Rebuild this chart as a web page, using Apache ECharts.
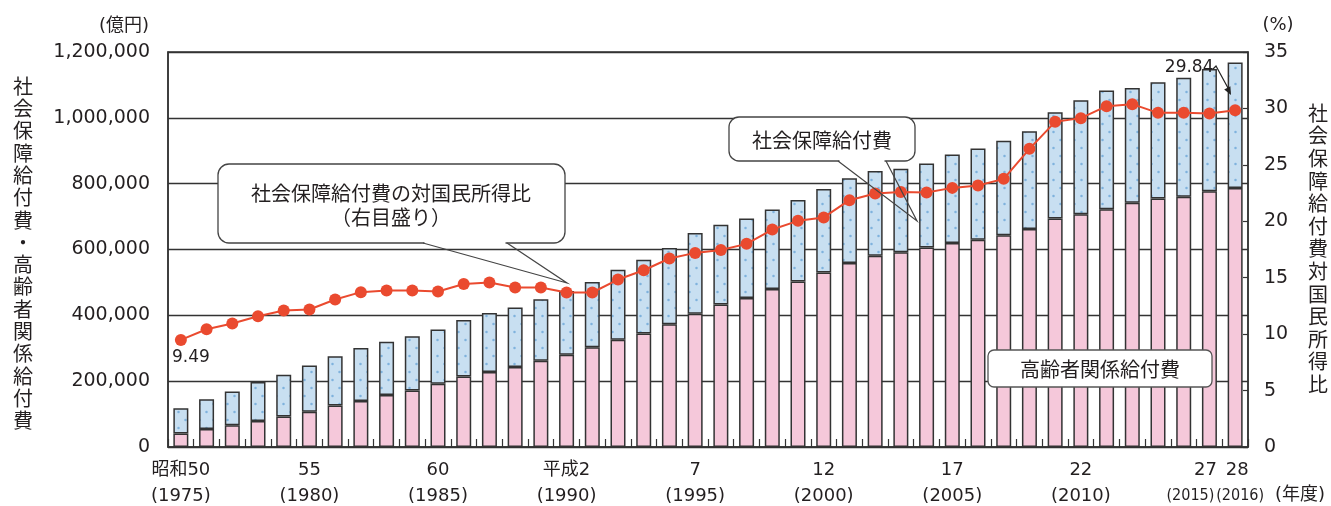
<!DOCTYPE html>
<html><head><meta charset="utf-8">
<script src="https://cdn.jsdelivr.net/npm/echarts@6/dist/echarts.min.js"></script>
<style>html,body{margin:0;padding:0;background:#fff}#c{width:1331px;height:506px}</style>
</head><body><div id="c"></div>
<script>
// ---- data (億円, %) ----
const years = ['1975','1976','1977','1978','1979','1980','1981','1982','1983','1984','1985','1986','1987','1988','1989','1990','1991','1992','1993','1994','1995','1996','1997','1998','1999','2000','2001','2002','2003','2004','2005','2006','2007','2008','2009','2010','2011','2012','2013','2014','2015','2016'];
const totalBenefits = [117693,145165,168868,197763,219832,247736,275638,300973,319733,336396,356798,385918,407337,424071,448822,474153,501346,538280,568974,604727,649842,675475,694187,721411,750417,783985,816267,838402,845260,860958,888529,906727,930441,959436,1016789,1053646,1082741,1090765,1107796,1121734,1148596,1168133];
const elderlyBenefits = [41000,55000,66000,79000,93000,107000,126000,140000,158000,172000,192000,214000,228000,243000,262000,280000,303000,326000,345000,373000,405000,433000,453000,480000,503000,530000,559000,581000,592000,606000,620000,630000,643000,662000,694000,707000,722000,742000,755000,760000,777000,787000];
const ratioToIncome = [9.49,10.43,10.94,11.59,12.09,12.18,13.07,13.72,13.87,13.87,13.78,14.45,14.57,14.13,14.13,13.69,13.69,14.84,15.66,16.7,17.2,17.45,18.0,19.27,20.04,20.34,21.87,22.46,22.6,22.55,22.96,23.17,23.76,26.42,28.81,29.14,30.2,30.38,29.61,29.61,29.56,29.84];
const tickYears = ['1975','1980','1985','1990','1995','2000','2005','2010','2015','2016'];
const tickEra = ['昭和50','55','60','平成2','7','12','17','22','27','28'];
const leftAxis = {min:0, max:1200000, step:200000};
const rightAxis = {min:0, max:35, step:5};

const FONT_NUM = 'DejaVu Sans, "Noto Sans CJK JP", sans-serif';
const FONT_JP = '"Noto Sans CJK JP", sans-serif';
const FONT_NARROW = '"DejaVu Sans Condensed", "Liberation Sans Narrow", sans-serif';
const INK = '#231f20';

// dotted blue pattern
const pc = document.createElement('canvas'); pc.width = 14; pc.height = 16;
const g = pc.getContext('2d');
g.fillStyle = '#c8dff1'; g.fillRect(0,0,14,16);
g.fillStyle = '#7fb2dd';
g.beginPath(); g.arc(3.5,4,1.25,0,Math.PI*2); g.fill();
g.beginPath(); g.arc(10.5,12,1.25,0,Math.PI*2); g.fill();

const others = totalBenefits.map((t,i)=>t - elderlyBenefits[i]);
const lineData = ratioToIncome.map((v,i)=>{
  if (i===0) return {value:v, label:{show:true, position:'inside', offset:[10,18], formatter:'{c}', fontFamily:FONT_NUM, fontSize:17, color:INK}};
  if (i===ratioToIncome.length-1) return {value:v, label:{show:true, position:'inside', offset:[-46,-43], formatter:'{c}', fontFamily:FONT_NUM, fontSize:17, color:INK}};
  return v;
});

const chart = echarts.init(document.getElementById('c'), null, {renderer:'canvas'});
const vChars = s => s.split('').join('\n');

const labelFormatter = (v)=>{
  const k = tickYears.indexOf(v);
  if (k<0) return '';
  if (v==='2015') return '{a1|'+tickEra[k]+'}\n{n1|('+v+')}';
  if (v==='2016') return '{a2|'+tickEra[k]+'}\n{n2|('+v+')}';
  return '{a|'+tickEra[k]+'}\n{a|('+v+')}';
};
const richStyles = {
  a:{fontFamily:FONT_NUM, fontSize:18, lineHeight:26, color:INK},
  a1:{fontFamily:FONT_NUM, fontSize:18, lineHeight:26, color:INK, padding:[0,8,0,0]},
  a2:{fontFamily:FONT_NUM, fontSize:18, lineHeight:26, color:INK, padding:[0,0,0,4]},
  n1:{fontFamily:FONT_NARROW, fontSize:16, lineHeight:26, color:INK, padding:[0,38,0,0]},
  n2:{fontFamily:FONT_NARROW, fontSize:16, lineHeight:26, color:INK, padding:[0,0,0,10]}
};

chart.setOption({
  animation:false,
  backgroundColor:'#fff',
  grid:{left:168, right:83, top:52, bottom:59, show:true, borderColor:'#333', borderWidth:1.5, backgroundColor:'transparent'},
  xAxis:[{
    type:'category', data:years, boundaryGap:true, position:'bottom',
    axisLine:{lineStyle:{color:'#333', width:1.5}},
    axisTick:{show:true, inside:true, length:8, interval:0, lineStyle:{color:'#333', width:1.2}},
    axisLabel:{
      interval:(i)=>tickYears.indexOf(years[i])>=0 && years[i]!=='2016',
      showMinLabel:true, showMaxLabel:true, hideOverlap:false,
      margin:10, formatter:labelFormatter, rich:richStyles
    }
  },{
    type:'category', data:years, boundaryGap:true, position:'bottom', offset:0,
    axisLine:{show:false}, axisTick:{show:false}, splitLine:{show:false},
    axisLabel:{
      interval:(i)=>years[i]==='2016',
      showMinLabel:true, showMaxLabel:true, hideOverlap:false,
      margin:10, formatter:labelFormatter, rich:richStyles
    }
  }],
  yAxis:[
    {type:'value', min:leftAxis.min, max:leftAxis.max, interval:leftAxis.step,
     axisLine:{show:true, lineStyle:{color:'#333', width:1.5}},
     axisTick:{show:false},
     splitLine:{show:true, lineStyle:{color:'#333', width:1.3}},
     axisLabel:{margin:18, fontFamily:FONT_NUM, fontSize:19, color:INK, formatter:(v)=>v.toLocaleString('en-US')}},
    {type:'value', min:rightAxis.min, max:rightAxis.max, interval:rightAxis.step, position:'right',
     axisLine:{show:true, lineStyle:{color:'#333', width:1.5}},
     axisTick:{show:true, inside:true, length:5, lineStyle:{color:'#333', width:1.2}},
     splitLine:{show:false},
     axisLabel:{margin:16, fontFamily:FONT_NUM, fontSize:19, color:INK}}
  ],
  series:[
    {name:'高齢者関係給付費', type:'bar', stack:'a', barWidth:15, data:elderlyBenefits,
     itemStyle:{color:'#f5c8da', borderColor:'#333', borderWidth:1.5}},
    {name:'その他', type:'bar', stack:'a', barWidth:15, data:others,
     itemStyle:{color:{image:pc, repeat:'repeat'}, borderColor:'#333', borderWidth:1.5}},
    {name:'社会保障給付費の対国民所得比', type:'line', yAxisIndex:1, data:lineData, z:5,
     symbol:'circle', symbolSize:12, showAllSymbol:true,
     itemStyle:{color:'#ea4a2f'}, lineStyle:{color:'#ea4a2f', width:2}}
  ],
  graphic:[
    {type:'text', z:10, style:{x:124, y:26, text:'(億円)', fontFamily:FONT_NUM, fontSize:18, fill:INK, textAlign:'center', textVerticalAlign:'middle'}},
    {type:'text', z:10, style:{x:1278, y:25, text:'(%)', fontFamily:FONT_NUM, fontSize:18, fill:INK, textAlign:'center', textVerticalAlign:'middle'}},
    {type:'text', z:10, style:{x:1300, y:495, text:'(年度)', fontFamily:FONT_NUM, fontSize:18, fill:INK, textAlign:'center', textVerticalAlign:'middle'}},
    {type:'text', z:10, style:{x:23, y:75, text:vChars('社会保障給付費・高齢者関係給付費'), fontFamily:FONT_JP, fontSize:20, lineHeight:22.3, fill:INK, textAlign:'center', textVerticalAlign:'top'}},
    {type:'text', z:10, style:{x:1318, y:102, text:vChars('社会保障給付費対国民所得比'), fontFamily:FONT_JP, fontSize:20, lineHeight:22.6, fill:INK, textAlign:'center', textVerticalAlign:'top'}},
    {type:'rect', z:20, shape:{x:218, y:164, width:347, height:79, r:11}, style:{fill:'#fff', stroke:'#444', lineWidth:1.3}},
    {type:'line', z:21, shape:{x1:424.5, y1:243, x2:505.5, y2:243}, style:{stroke:'#fff', lineWidth:3}},
    {type:'polyline', z:21, shape:{points:[[423,243],[567,283],[507,243]]}, style:{stroke:'#444', lineWidth:1.2, fill:null}},
    {type:'text', z:22, style:{x:391, y:205, text:'社会保障給付費の対国民所得比\n（右目盛り）', fontFamily:FONT_JP, fontSize:20, lineHeight:24, fill:INK, textAlign:'center', textVerticalAlign:'middle'}},
    {type:'rect', z:20, shape:{x:729, y:117, width:186, height:44, r:10}, style:{fill:'#fff', stroke:'#444', lineWidth:1.3}},
    {type:'line', z:21, shape:{x1:839.5, y1:161, x2:884.5, y2:161}, style:{stroke:'#fff', lineWidth:3}},
    {type:'polyline', z:21, shape:{points:[[838,161],[917,221],[886,161]]}, style:{stroke:'#444', lineWidth:1.2, fill:null}},
    {type:'text', z:22, style:{x:822, y:140, text:'社会保障給付費', fontFamily:FONT_JP, fontSize:20, fill:INK, textAlign:'center', textVerticalAlign:'middle'}},
    {type:'rect', z:20, shape:{x:988, y:350, width:224, height:37, r:6}, style:{fill:'#fff', stroke:'#555', lineWidth:1.3}},
    {type:'text', z:22, style:{x:1100, y:369, text:'高齢者関係給付費', fontFamily:FONT_JP, fontSize:20, fill:INK, textAlign:'center', textVerticalAlign:'middle'}},
    {type:'polyline', z:21, shape:{points:[[1213,69],[1216,66],[1228,88]]}, style:{stroke:'#222', lineWidth:1.2, fill:null}},
    {type:'polygon', z:21, shape:{points:[[1231,95],[1224.2,89.5],[1230.4,86.3]]}, style:{fill:'#222'}}
  ]
});
</script></body></html>
